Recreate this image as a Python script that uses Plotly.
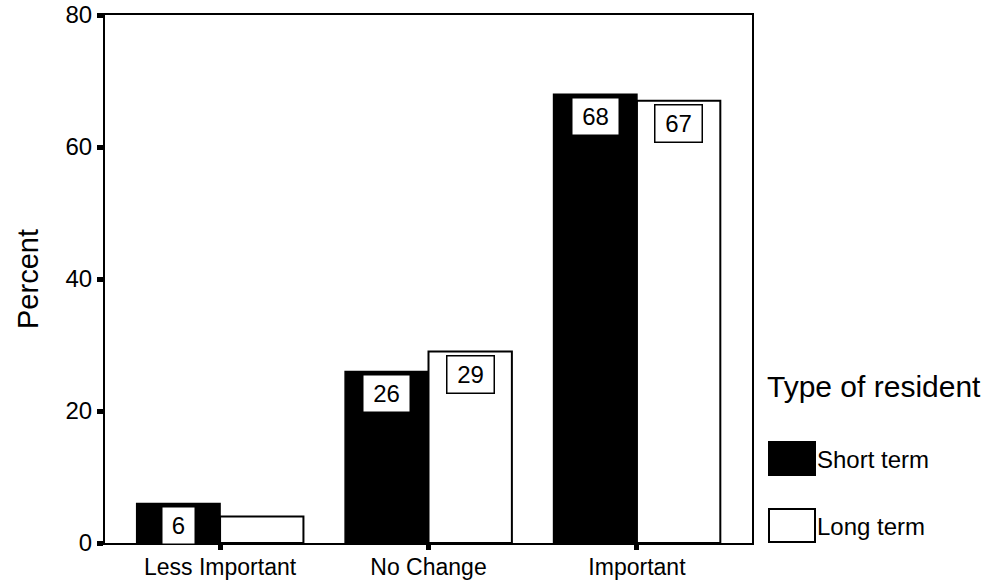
import plotly.graph_objects as go

# Importance ratings by type of resident (percent of respondents)
categories = ["Less Important", "No Change", "Important"]
series_names = ["Short term", "Long term"]
short_term = [6, 26, 68]
long_term = [4, 29, 67]
# value boxes printed on the bars (None = no box)
short_labels = [6, 26, 68]
long_labels = [None, 29, 67]
y_ticks = [0, 20, 40, 60, 80]
legend_title = "Type of resident"

FONT = "Liberation Sans, Arial, Helvetica, sans-serif"

fig = go.Figure()
fig.add_trace(go.Bar(
    x=categories, y=short_term, name=series_names[0],
    marker=dict(color="black", line=dict(color="black", width=1.5)),
    showlegend=False,
))
fig.add_trace(go.Bar(
    x=categories, y=long_term, name=series_names[1],
    marker=dict(color="white", line=dict(color="black", width=2)),
    showlegend=False,
))

# boxed value labels just under the top of each bar
annotations = []
for offset, vals, labels in ((-0.2, short_term, short_labels), (0.2, long_term, long_labels)):
    for i, (v, lab) in enumerate(zip(vals, labels)):
        if lab is None:
            continue
        txt = str(lab)
        annotations.append(dict(
            x=i + offset, y=v, xref="x", yref="y",
            text=txt, showarrow=False,
            xanchor="center", yanchor="top", yshift=-3,
            font=dict(family=FONT, size=24, color="black"),
            bgcolor="white", bordercolor="black", borderwidth=1.5, borderpad=0,
            width=14 * len(txt) + 18, height=36,
        ))

# legend drawn beside the plot
plot_l, plot_r, plot_t, plot_b = 105, 752, 15, 543


def px_x(p):
    return (p - plot_l) / (plot_r - plot_l)


def px_y(p):
    return (plot_b - p) / (plot_b - plot_t)


annotations.append(dict(
    x=px_x(765), y=px_y(386), xref="paper", yref="paper",
    text=legend_title, showarrow=False, xanchor="left", yanchor="middle",
    font=dict(family=FONT, size=30, color="black"),
))
shapes = []
legend_rows = [(series_names[0], "black", 442, 475), (series_names[1], "white", 509, 542)]
for name, fill, top, bot in legend_rows:
    shapes.append(dict(
        type="rect", xref="paper", yref="paper",
        x0=px_x(769), x1=px_x(815), y0=px_y(bot), y1=px_y(top),
        fillcolor=fill, line=dict(color="black", width=2),
    ))
    annotations.append(dict(
        x=px_x(815), y=px_y((top + bot) / 2 + 1), xref="paper", yref="paper",
        text=name, showarrow=False, xanchor="left", yanchor="middle",
        font=dict(family=FONT, size=24, color="black"),
    ))

fig.update_layout(
    width=992, height=585,
    margin=dict(l=plot_l, r=992 - plot_r, t=plot_t, b=585 - plot_b, pad=0),
    paper_bgcolor="white", plot_bgcolor="white",
    barmode="group", bargap=0.2, bargroupgap=0,
    font=dict(family=FONT, color="black"),
    annotations=annotations, shapes=shapes,
    xaxis=dict(
        type="category", range=[-0.552, 2.552], automargin=False,
        showline=True, linecolor="black", linewidth=2, mirror=True,
        ticks="outside", ticklen=5, tickwidth=5, tickcolor="black",
        tickfont=dict(family=FONT, size=23), ticklabelstandoff=-3,
        showgrid=False, zeroline=False,
    ),
    yaxis=dict(
        range=[0, 80], tickvals=y_ticks, automargin=False,
        showline=True, linecolor="black", linewidth=2, mirror=True,
        ticks="outside", ticklen=6, tickwidth=5, tickcolor="black",
        tickfont=dict(family=FONT, size=24), showgrid=False, zeroline=False,
        title=dict(text="Percent", font=dict(family=FONT, size=29), standoff=18),
    ),
)

fig.write_html("out.html")
